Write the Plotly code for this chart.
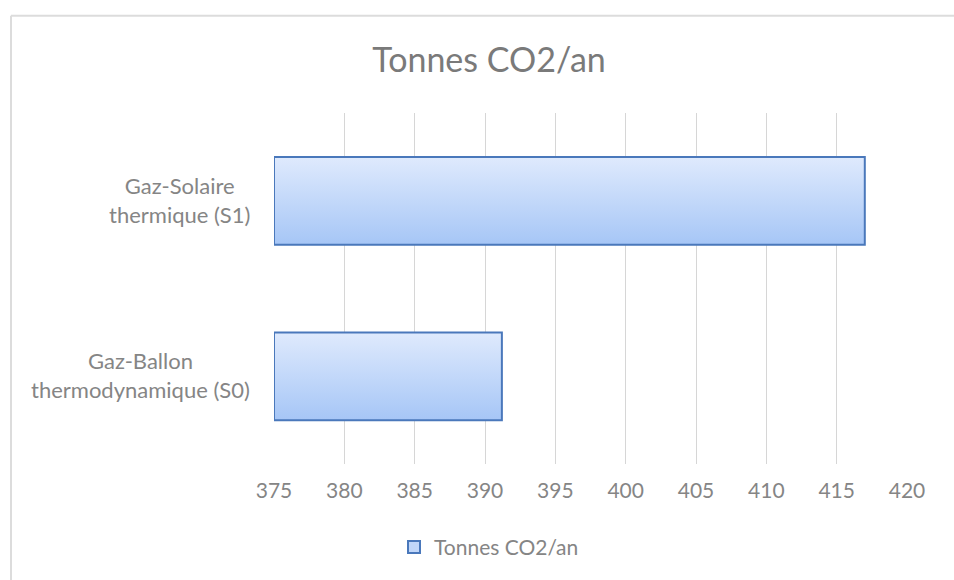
import plotly.graph_objects as go

# Data
categories = ["Gaz-Ballon<br>thermodynamique (S0)", "Gaz-Solaire<br>thermique (S1)"]
values = [391.2, 417.0]
series_name = "Tonnes CO2/an"
x_ticks = [375, 380, 385, 390, 395, 400, 405, 410, 415, 420]

# Styling
W, H = 954, 580
ML, MR, MT, MB = 274, 47, 113, 113
FONT = "Lato"
TEXT_GREY = "#858585"
BAR_LINE = "#4a78bb"
GRAD_TOP = "#dfeafd"
GRAD_BOTTOM = "#a6c6f6"
GRAD_MID = "#c0d6f9"
BAR_HALF = 0.25
AXIS_MIN, AXIS_MAX = x_ticks[0], x_ticks[-1]

fig = go.Figure()

# Horizontal bars with a vertical gradient fill
for i, (cat, val) in enumerate(zip(categories, values)):
    y0, y1 = i - BAR_HALF, i + BAR_HALF
    fig.add_trace(go.Scatter(
        x=[AXIS_MIN, val, val, AXIS_MIN, AXIS_MIN],
        y=[y0, y0, y1, y1, y0],
        mode="lines",
        fill="toself",
        fillgradient=dict(
            type="vertical",
            colorscale=[[0, GRAD_BOTTOM], [1, GRAD_TOP]],
            start=y0,
            stop=y1,
        ),
        line=dict(color=BAR_LINE, width=2),
        name=series_name,
        showlegend=False,
        hoverinfo="skip",
    ))

# Legend entry with a square swatch
fig.add_trace(go.Bar(
    x=[None], y=[None], orientation="h",
    name=series_name,
    marker=dict(color=GRAD_MID, line=dict(color=BAR_LINE, width=2)),
    showlegend=True, hoverinfo="skip",
))

# Category labels, centred line by line
for i, cat in enumerate(categories):
    fig.add_annotation(
        x=0, xref="paper", xanchor="right", xshift=-22,
        y=i, yref="y", yanchor="middle", yshift=1,
        text=cat, align="center", showarrow=False,
        font=dict(family=FONT, size=22, color=TEXT_GREY),
    )

# Outer chart frame (top and left edges)
pw = W - ML - MR
ph = H - MT - MB
frame_x = (11 - ML) / pw
frame_y = 1 + (MT - 15) / ph
fig.add_shape(type="line", xref="paper", yref="paper",
              x0=frame_x, x1=(W + 5 - ML) / pw, y0=frame_y, y1=frame_y,
              line=dict(color="#dcdcdc", width=2))
fig.add_shape(type="line", xref="paper", yref="paper",
              x0=frame_x, x1=frame_x, y0=frame_y, y1=-(MB + 5) / ph,
              line=dict(color="#dcdcdc", width=2))

fig.update_layout(
    width=W, height=H,
    margin=dict(l=ML, r=MR, t=MT, b=MB),
    paper_bgcolor="white",
    plot_bgcolor="white",
    title=dict(
        text=series_name,
        x=489 / W, xanchor="center",
        xref="container",
        y=1 - 60 / H, yanchor="middle",
        font=dict(family=FONT, size=34, color="#7a7a7a"),
    ),
    xaxis=dict(
        range=[AXIS_MIN, AXIS_MAX],
        tickvals=x_ticks,
        ticktext=[str(t) for t in x_ticks],
        showgrid=True, gridcolor="#d6d6d6", gridwidth=1,
        zeroline=False, showline=False, ticks="",
        ticklabelstandoff=12,
        tickfont=dict(family=FONT, size=21, color=TEXT_GREY),
        fixedrange=True,
    ),
    yaxis=dict(
        range=[-0.5, len(categories) - 0.5],
        showticklabels=False, showgrid=False, zeroline=False,
        showline=False, ticks="", fixedrange=True,
    ),
    showlegend=True,
    legend=dict(
        orientation="h",
        x=(394 - ML) / pw, xanchor="left",
        y=-(551 - (H - MB)) / ph, yanchor="middle",
        font=dict(family=FONT, size=21, color=TEXT_GREY),
        bgcolor="rgba(0,0,0,0)",
    ),
)

fig.write_html("out.html")
